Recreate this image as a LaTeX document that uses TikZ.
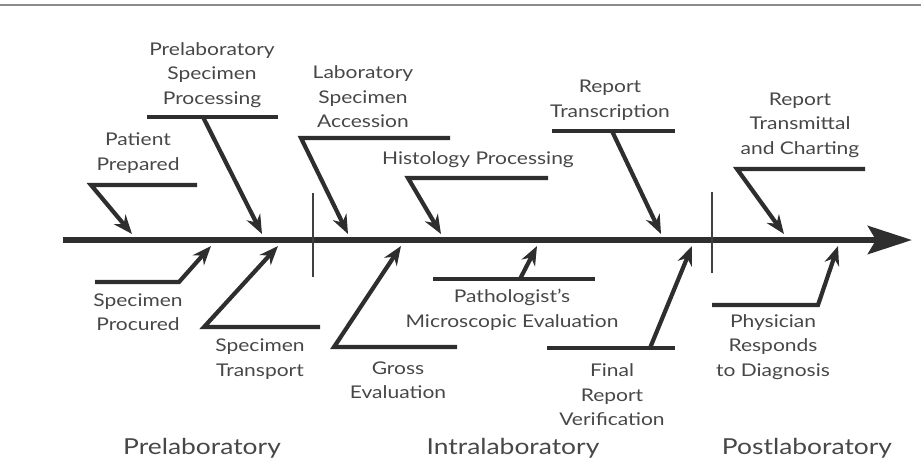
\documentclass[tikz,border=0pt]{standalone}
\usepackage{fontspec}
\setmainfont[FakeStretch=1.2]{Lato}
\usetikzlibrary{arrows.meta}
\begin{document}
\begin{tikzpicture}[x=1pt,y=-1pt,
  lbl/.style={align=center, font=\fontsize{17.5}{24.5}\selectfont, text=black!72, inner sep=0pt},
  phase/.style={font=\fontsize{22}{26}\selectfont, text=black!72, inner sep=0pt},
  bar/.style={line width=3.8pt, draw=black!82},
  bone/.style={line width=4.2pt, draw=black!82, line join=miter, -{Stealth[length=19pt,width=15pt]}},
  spine/.style={line width=6.5pt, draw=black!82, -{Stealth[length=44pt,width=28pt,inset=8pt]}},
  sep/.style={line width=1.1pt, draw=black!75}]
\useasboundingbox (0,0) rectangle (921,467);
% top rule
\coordinate (tl) at (0,5); \coordinate (tr) at (921,5);
\draw[line width=2pt, draw=black!45] (tl) -- (tr);
% spine
\coordinate (s0) at (63,240); \coordinate (s1) at (912,240);
\draw[spine] (s0) -- (s1);
% separators
\coordinate (v1a) at (313,193); \coordinate (v1b) at (313,277);
\coordinate (v2a) at (712,192); \coordinate (v2b) at (712,273);
\draw[sep] (v1a) -- (v1b);
\draw[sep] (v2a) -- (v2b);
% ---------- top branches ----------
% Patient Prepared
\node[lbl] (pp) at (138,153) {Patient\\Prepared};
\coordinate (ppR) at (197,185); \coordinate (ppL) at (91,185); \coordinate (ppT) at (132,234);
\draw[bone] (ppR) -- (ppL) -- (ppT);
% Prelaboratory Specimen Processing
\node[lbl] (psp) at (212,75) {Prelaboratory\\Specimen\\Processing};
\coordinate (pspL) at (147,117); \coordinate (pspR) at (278,117);
\coordinate (pspS) at (203,117); \coordinate (pspT) at (262,234);
\draw[bar] (pspL) -- (pspR);
\draw[bone] (pspS) -- (pspT);
% Laboratory Specimen Accession
\node[lbl] (lsa) at (363,97) {Laboratory\\Specimen\\Accession};
\coordinate (lsaR) at (450,138); \coordinate (lsaL) at (301,138); \coordinate (lsaT) at (348,234);
\draw[bone] (lsaR) -- (lsaL) -- (lsaT);
% Histology Processing
\node[lbl] (hp) at (478,160) {Histology Processing};
\coordinate (hpR) at (548,178); \coordinate (hpL) at (408,178); \coordinate (hpT) at (441,234);
\draw[bone] (hpR) -- (hpL) -- (hpT);
% Report Transcription
\node[lbl] (rt) at (610,100) {Report\\Transcription};
\coordinate (rtL) at (552,131); \coordinate (rtR) at (675,131);
\coordinate (rtS) at (612,131); \coordinate (rtT) at (661,234);
\draw[bar] (rtL) -- (rtR);
\draw[bone] (rtS) -- (rtT);
% Report Transmittal and Charting
\node[lbl] (rtc) at (800,125) {Report\\Transmittal\\and Charting};
\coordinate (rtcR) at (865,169); \coordinate (rtcL) at (737,169); \coordinate (rtcT) at (784,234);
\draw[bone] (rtcR) -- (rtcL) -- (rtcT);
% ---------- bottom branches ----------
% Specimen Procured
\node[lbl] (sp) at (138,312) {Specimen\\Procured};
\coordinate (spL) at (95,282); \coordinate (spR) at (179,282); \coordinate (spT) at (211,246);
\draw[bone] (spL) -- (spR) -- (spT);
% Specimen Transport
\node[lbl] (st) at (260,359) {Specimen\\Transport};
\coordinate (stR) at (320,327); \coordinate (stL) at (204,327); \coordinate (stT) at (278,246);
\draw[bone] (stR) -- (stL) -- (stT);
% Gross Evaluation
\node[lbl] (ge) at (398,380) {Gross\\Evaluation};
\coordinate (geR) at (457,347); \coordinate (geL) at (334,347); \coordinate (geT) at (401,246);
\draw[bone] (geR) -- (geL) -- (geT);
% Pathologist's Microscopic Evaluation
\node[lbl] (pme) at (512,310) {Pathologist's\\Microscopic Evaluation};
\coordinate (pmeL) at (433,279); \coordinate (pmeR) at (595,279);
\coordinate (pmeS) at (520,279); \coordinate (pmeT) at (537,246);
\draw[bar] (pmeL) -- (pmeR);
\draw[bone] (pmeS) -- (pmeT);
% Final Report Verification
\node[lbl] (frv) at (612,395) {Final\\Report\\Verification};
\coordinate (frvL) at (547,348); \coordinate (frvR) at (675,348);
\coordinate (frvS) at (650,348); \coordinate (frvT) at (692,246);
\draw[bar] (frvL) -- (frvR);
\draw[bone] (frvS) -- (frvT);
% Physician Responds to Diagnosis
\node[lbl] (prd) at (773,347) {Physician\\Responds\\to Diagnosis};
\coordinate (prdL) at (712,305); \coordinate (prdR) at (818,305); \coordinate (prdT) at (838,246);
\draw[bone] (prdL) -- (prdR) -- (prdT);
% ---------- phases ----------
\node[phase] (ph1) at (202,448) {Prelaboratory};
\node[phase] (ph2) at (513,448) {Intralaboratory};
\node[phase] (ph3) at (807,448) {Postlaboratory};
\end{tikzpicture}
\end{document}
